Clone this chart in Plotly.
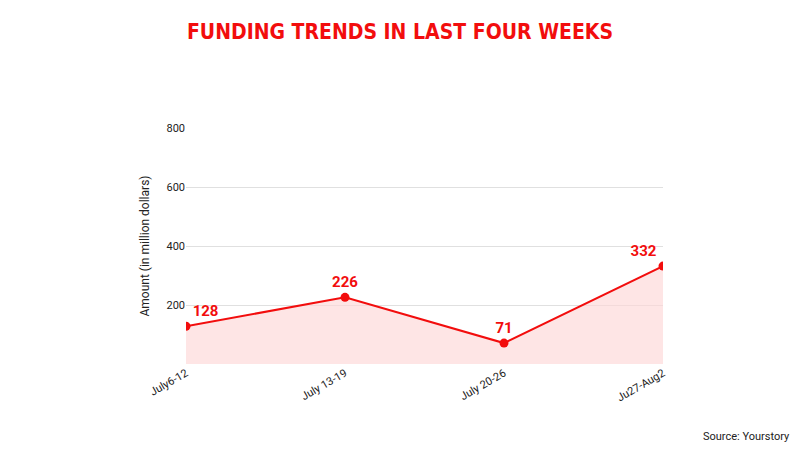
import plotly.graph_objects as go

weeks = ["July6-12", "July 13-19", "July 20-26", "Ju27-Aug2"]
amounts = [128, 226, 71, 332]
y_ticks = [200, 400, 600, 800]
label_pos = ["top right", "top center", "top center", "top left"]

RED = "#f20d0d"

fig = go.Figure()
fig.add_trace(go.Scatter(
    x=list(range(len(weeks))), y=amounts,
    mode="lines+markers+text",
    line=dict(color=RED, width=2),
    marker=dict(color=RED, size=9),
    fill="tozeroy", fillcolor="rgba(253,215,215,0.65)",
    text=[str(v) for v in amounts],
    textposition=label_pos,
    textfont=dict(family="Roboto", size=15, color=RED, weight="bold"),
    cliponaxis=True,
    hoverinfo="skip",
))

fig.update_layout(
    width=800, height=450,
    margin=dict(l=186, r=137, t=128, b=86),
    paper_bgcolor="white", plot_bgcolor="white",
    showlegend=False,
    title=dict(
        text="FUNDING TRENDS IN LAST FOUR WEEKS",
        x=0.5, xanchor="center", y=0.93, yanchor="middle",
        font=dict(family="DejaVu Sans Condensed", size=21, color=RED, weight="bold"),
    ),
    xaxis=dict(
        range=[0, 3], tickmode="array",
        tickvals=list(range(len(weeks))), ticktext=weeks,
        tickangle=-30, showgrid=False, zeroline=False, showline=False,
        tickfont=dict(family="Roboto", size=11, color="#222"),
        ticks="", ticklen=0,
    ),
    yaxis=dict(
        range=[0, 800], tickmode="array", tickvals=y_ticks,
        showgrid=True, gridcolor="#e0e0e0", gridwidth=1,
        zeroline=False, showline=False,
        tickfont=dict(family="Roboto", size=11, color="#222"),
        title=dict(text="Amount (in million dollars)",
                   font=dict(family="Roboto", size=12, color="#222"), standoff=14),
    ),
    annotations=[dict(
        text="Source: Yourstory", xref="paper", yref="paper",
        x=(792 - 186) / 477, y=-(436 - 364) / 236, xanchor="right", yanchor="middle",
        showarrow=False, font=dict(family="Roboto", size=11, color="#222"),
    )],
)

fig.write_html("out.html")
